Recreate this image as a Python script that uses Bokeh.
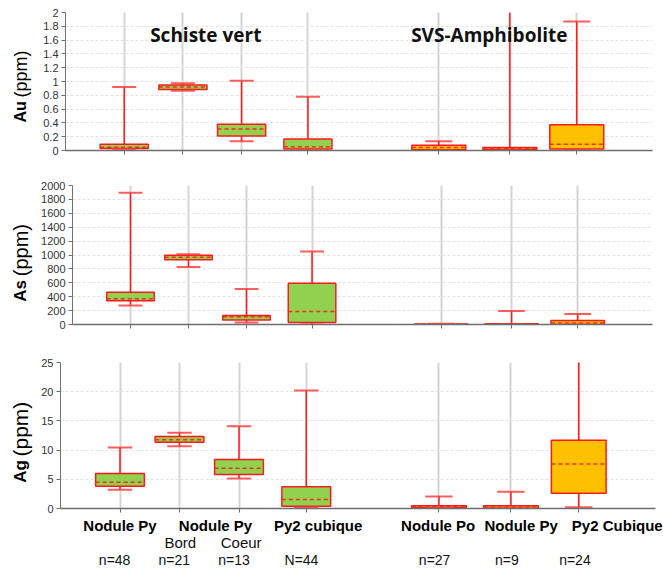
import math
from bokeh.plotting import figure
from bokeh.layouts import column, row
from bokeh.models import ColumnDataSource, FixedTicker, Range1d, Label, CustomJSTickFormatter
from bokeh.embed import file_html
from bokeh.resources import INLINE

# ---------------- data ----------------
categories = ["Nodule Py", "Nodule Py Bord", "Nodule Py Coeur", "Py2 cubique",
              "Nodule Po", "Nodule Py", "Py2 Cubique"]
groups = ["Schiste vert"] * 4 + ["SVS-Amphibolite"] * 3
counts = ["n=48", "n=21", "n=13", "N=44", "n=27", "n=9", "n=24"]

au_min = [0.02, 0.865, 0.135, 0.005, 0.0, 0.0, 0.01]
au_q1 = [0.03, 0.884, 0.21, 0.02, 0.01, 0.015, 0.02]
au_med = [0.048, 0.92, 0.31, 0.053, 0.043, 0.03, 0.092]
au_q3 = [0.092, 0.95, 0.38, 0.165, 0.077, 0.043, 0.372]
au_max = [0.92, 0.976, 1.01, 0.78, 0.135, 5.0, 1.87]

as_min = [275, 829, 29, 0, 0, 0, 0]
as_q1 = [342, 930, 63, 29, 0, 0, 0]
as_med = [371, 969, 111, 188, 3, 2, 20]
as_q3 = [463, 998, 130, 593, 8, 10, 58]
as_max = [1894, 1012, 511, 1051, 10, 193, 150]

ag_min = [3.2, 10.67, 5.14, 0.17, 0.1, 0.03, 0.23]
ag_q1 = [3.82, 11.36, 5.82, 0.4, 0.11, 0.06, 2.63]
ag_med = [4.5, 11.76, 6.9, 1.54, 0.3, 0.25, 7.6]
ag_q3 = [5.99, 12.33, 8.39, 3.71, 0.46, 0.46, 11.7]
ag_max = [10.45, 12.96, 14.1, 20.2, 2.05, 2.85, 27.0]

au_ticks = [0, 0.2, 0.4, 0.6, 0.8, 1, 1.2, 1.4, 1.6, 1.8, 2]
as_ticks = [0, 200, 400, 600, 800, 1000, 1200, 1400, 1600, 1800, 2000]
ag_ticks = [0, 5, 10, 15, 20, 25]

group_titles = ["Schiste vert", "SVS-Amphibolite"]
main_labels = ["Nodule Py", "Nodule Py", "Py2 cubique", "Nodule Po", "Nodule Py", "Py2 Cubique"]
sub_labels = ["Bord", "Coeur"]

# ---------------- layout / style ----------------
positions = [1.0, 2.0, 3.0, 4.13, 6.36, 7.57, 8.71]
title_x = [2.39, 7.22]
main_label_x = [1.03, 2.63, 4.35, 6.36, 7.75, 9.36]
sub_label_x = [2.04, 3.06]
box_w = {"Schiste vert": 0.82, "SVS-Amphibolite": 0.92}
fills = {"Schiste vert": "#92D050", "SVS-Amphibolite": "#FFC000"}
RED = "#FF1A1A"
LABW = 38


def make_panel(stats, ticks, width, height, bl, br, bt, bb):
    mn, q1, med, q3, mx = stats
    w = [box_w[g] for g in groups]
    src = ColumnDataSource(dict(
        x=positions,
        x0=[p - wi / 2 for p, wi in zip(positions, w)],
        x1=[p + wi / 2 for p, wi in zip(positions, w)],
        c0=[p - wi / 4 for p, wi in zip(positions, w)],
        c1=[p + wi / 4 for p, wi in zip(positions, w)],
        mn=mn, q1=q1, med=med, q3=q3, mx=mx,
        fill=[fills[g] for g in groups],
    ))
    p = figure(width=width, height=height, x_range=Range1d(0, 10),
               y_range=Range1d(ticks[0], ticks[-1]),
               output_backend="svg", toolbar_location=None,
               min_border_left=bl, min_border_right=br,
               min_border_top=bt, min_border_bottom=bb)
    p.outline_line_color = None
    p.background_fill_color = "white"
    p.border_fill_color = "white"

    p.xaxis.ticker = FixedTicker(ticks=positions)
    p.xaxis.formatter = CustomJSTickFormatter(code='return "";')
    p.xaxis.major_label_text_font_size = "1px"
    p.xaxis.major_label_standoff = 0
    p.xaxis.major_tick_out = 4
    p.xaxis.major_tick_in = 0
    p.xaxis.minor_tick_line_color = None
    p.xaxis.axis_line_color = "#6E6E6E"
    p.xaxis.axis_line_width = 1.5
    p.xaxis.major_tick_line_color = "#6E6E6E"

    p.yaxis.ticker = FixedTicker(ticks=ticks)
    p.yaxis.formatter = CustomJSTickFormatter(code="return String(tick);")
    p.yaxis.major_label_text_font = "Liberation Sans"
    p.yaxis.major_label_text_font_size = "11px"
    p.yaxis.major_label_text_color = "#333333"
    p.yaxis.major_label_standoff = 3
    p.yaxis.major_tick_out = 4
    p.yaxis.major_tick_in = 0
    p.yaxis.minor_tick_line_color = None
    p.yaxis.axis_line_color = "#707070"
    p.yaxis.major_tick_line_color = "#707070"

    p.xgrid.grid_line_color = "#D4D4D4"
    p.xgrid.grid_line_width = 2
    p.ygrid.grid_line_color = "#E2E2E2"
    p.ygrid.grid_line_dash = "3 2"
    p.ygrid.grid_line_width = 1

    p.segment("x", "q3", "x", "mx", source=src, line_color=RED, line_width=1.5)
    p.segment("x", "q1", "x", "mn", source=src, line_color=RED, line_width=1.5)
    p.quad(left="x0", right="x1", bottom="q1", top="q3", source=src,
           fill_color="fill", line_color=RED, line_width=1.5)
    p.segment("x0", "med", "x1", "med", source=src, line_color="#E8321E",
              line_width=1.5, line_dash="4 3")
    p.segment("c0", "mx", "c1", "mx", source=src, line_color="#FF4040",
              line_width=2, line_alpha=0.85)
    p.segment("c0", "mn", "c1", "mn", source=src, line_color="#FF4040",
              line_width=2, line_alpha=0.85)
    return p


def label_fig(p, height, bt, bb, elem, y_bold, y_rest, size_b, size_r):
    f = figure(width=LABW, height=height, x_range=Range1d(0, LABW), y_range=p.y_range,
               x_axis_type=None, y_axis_type=None, output_backend="svg",
               toolbar_location=None, min_border_left=0, min_border_right=0,
               min_border_top=bt, min_border_bottom=bb)
    f.outline_line_color = None
    f.add_layout(Label(x=20, y=y_bold, text=elem, angle=math.pi / 2,
                       text_font="Liberation Sans", text_font_style="bold",
                       text_font_size=size_b, text_align="left",
                       text_baseline="middle", text_color="#000000"))
    f.add_layout(Label(x=20, y=y_rest, text="(ppm)", angle=math.pi / 2,
                       text_font="Liberation Sans", text_font_style="normal",
                       text_font_size=size_r, text_align="left",
                       text_baseline="middle", text_color="#000000"))
    return f


W = 663 - LABW
p1 = make_panel((au_min, au_q1, au_med, au_q3, au_max), au_ticks, W, 168, 27, 11, 12, 18)
p2 = make_panel((as_min, as_q1, as_med, as_q3, as_max), as_ticks, W, 177, 33, 11, 17, 21)
p3 = make_panel((ag_min, ag_q1, ag_med, ag_q3, ag_max), ag_ticks, W, 171, 20, 8, 17, 8)

l1 = label_fig(p1, 168, 12, 18, "Au", 0.406, 0.768, "16px", "18px")
l2 = label_fig(p2, 177, 17, 21, "As", 328, 695, "17px", "20px")
l3 = label_fig(p3, 171, 17, 8, "Ag", 4.4, 8.9, "17px", "21px")

# group titles
for txt, gx in zip(group_titles, title_x):
    p1.add_layout(Label(x=gx, y=1.67, text=txt, text_font="Open Sans",
                        text_font_style="bold", text_font_size="19px",
                        text_align="center", text_baseline="middle",
                        text_color="#111111"))

# category labels below the bottom panel (own strip sharing the x scale)
CAT_H = 568 - 168 - 177 - 171
cat = figure(width=663, height=CAT_H, x_range=Range1d(0, 10 * 605 / 597),
             y_range=Range1d(CAT_H, 0), x_axis_type=None, y_axis_type=None,
             output_backend="svg", toolbar_location=None,
             min_border_left=LABW + 20, min_border_right=0,
             min_border_top=0, min_border_bottom=0)
cat.outline_line_color = None
for txt, lx in zip(main_labels, main_label_x):
    cat.add_layout(Label(x=lx, y=9, text=txt, text_font="Liberation Sans",
                         text_font_style="bold", text_font_size="15px",
                         text_align="center", text_baseline="middle",
                         text_color="#000000"))
for txt, lx in zip(sub_labels, sub_label_x):
    cat.add_layout(Label(x=lx, y=26, text=txt, text_font="Liberation Sans",
                         text_font_size="15px", text_align="center",
                         text_baseline="middle", text_color="#111111"))
for txt, lx in zip(counts, positions):
    cat.add_layout(Label(x=lx - 0.06, y=43.5, text=txt, text_font="Liberation Sans",
                         text_font_size="14px", text_align="center",
                         text_baseline="middle", text_color="#111111"))

layout = column(row(l1, p1), row(l2, p2), row(l3, p3), cat)
open("out.html", "w").write(file_html(layout, INLINE, title="Box plots"))
